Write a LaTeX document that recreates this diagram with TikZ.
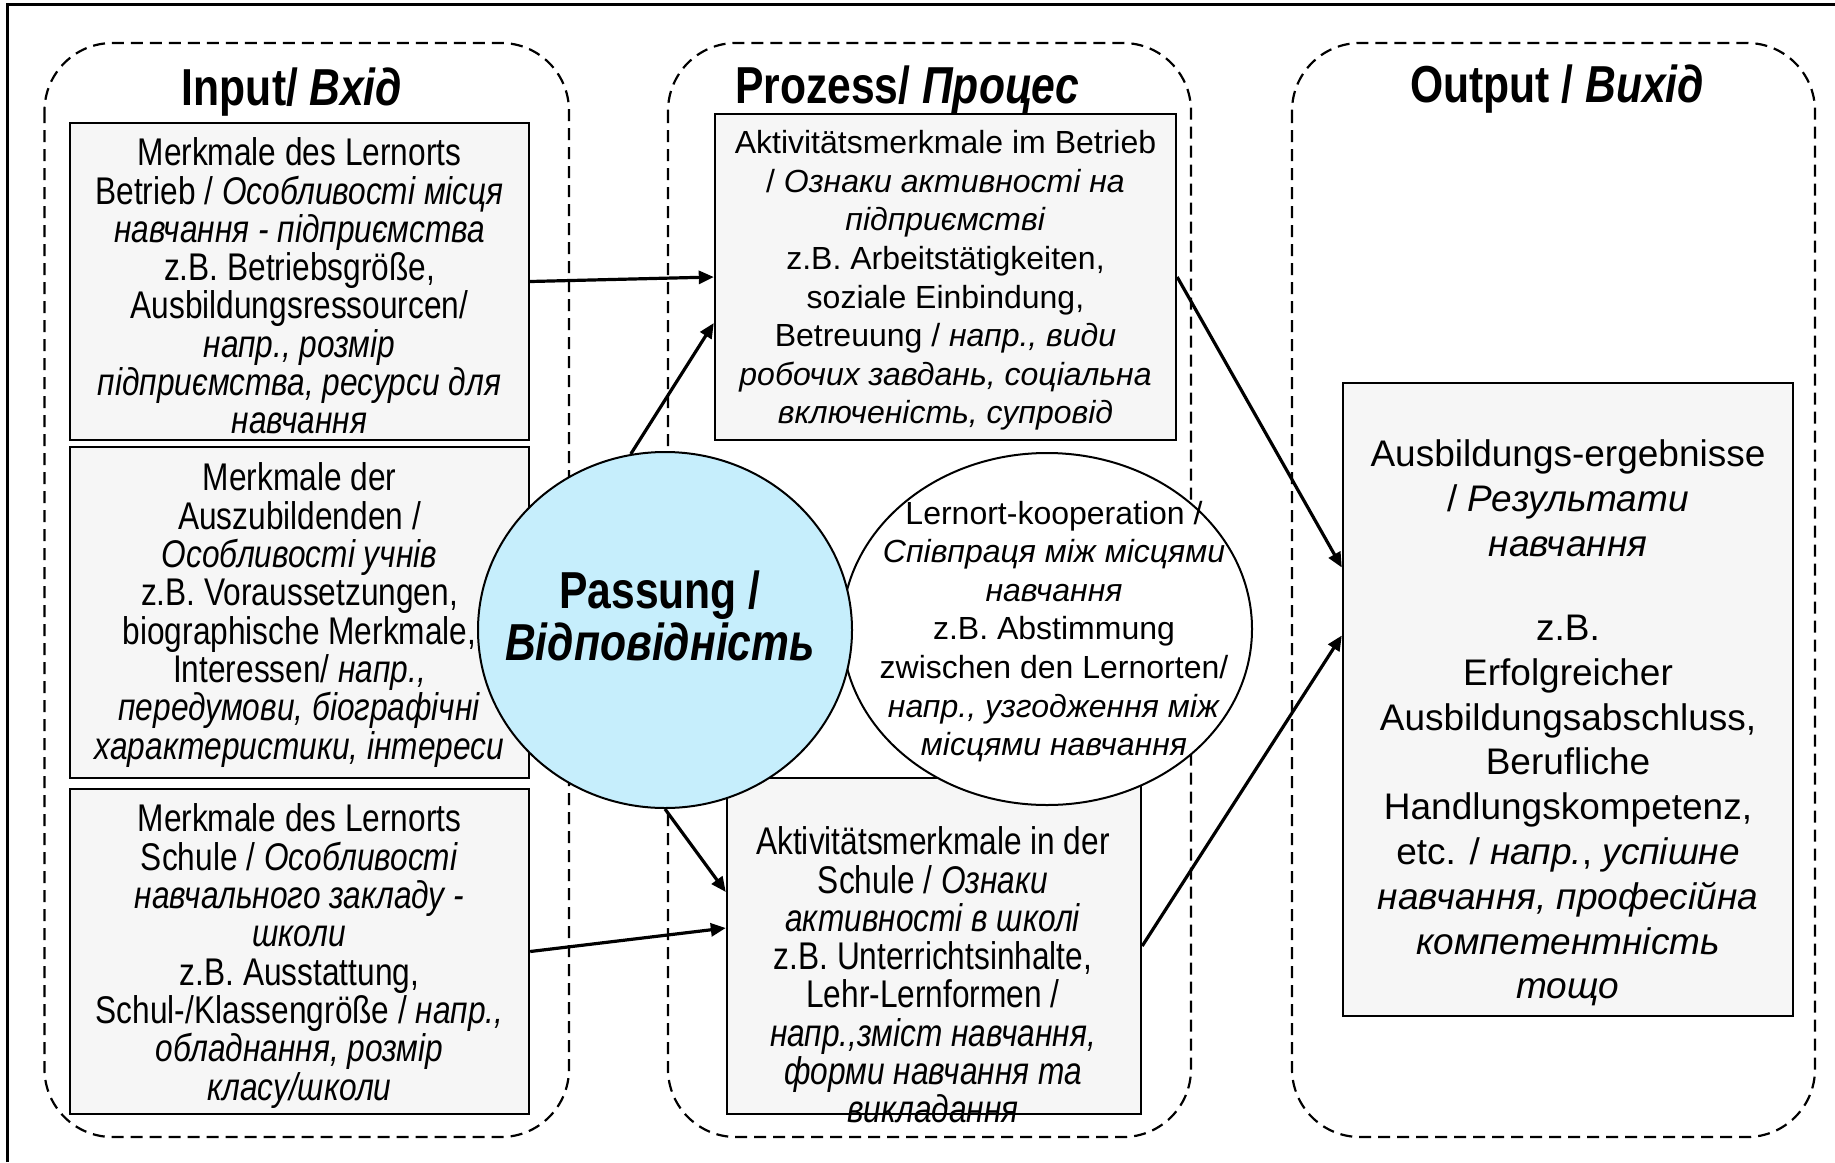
\documentclass[tikz,border=0pt]{standalone}
\usepackage{fontspec}
\setmainfont{Liberation Sans}
\newfontfamily\nrw[FakeStretch=0.82]{Liberation Sans}
\usetikzlibrary{arrows.meta,shapes.geometric,calc}
\definecolor{boxgray}{RGB}{246,246,246}
\definecolor{passblue}{RGB}{198,238,252}
\tikzset{
 colbox/.style={draw, dash pattern=on 6pt off 3.5pt, line width=1.1pt, rounded corners=34pt},
 gbox/.style={draw, fill=boxgray, line width=1.2pt, inner sep=0pt, align=center},
 plain/.style={inner sep=0pt, align=center},
 nfont/.style={font=\nrw\fontsize{19.3}{19.15}\selectfont},
 rfont/.style={font=\fontsize{16}{19.3}\selectfont},
 ofont/.style={font=\fontsize{18.5}{22.4}\selectfont},
 tfont/.style={font=\nrw\bfseries\fontsize{26}{26.3}\selectfont},
 ellbox/.style={ellipse, draw, line width=1pt, inner sep=0pt},
 conn/.style={line width=1.6pt, -{Triangle[length=7.5pt,width=6.5pt]}},
 frame/.style={line width=1.5pt},
}
\begin{document}
\begin{tikzpicture}[x=0.5pt,y=-0.5pt]
\useasboundingbox (0,0) rectangle (1835,1162);
% outer frame (cut)
\draw[frame] (7,1162) -- (7,4) -- (1835,4);
% columns
\draw[colbox] (44.5,43) rectangle (569,1137);
\draw[colbox] (668,43) rectangle (1191,1137);
\draw[colbox] (1292,43) rectangle (1815,1137);
% titles
\node[tfont, anchor=base] (tin) at (292,105) {Input/ \textit{Вхід}};
\node[tfont, anchor=base] (tpro) at (907,103) {Prozess/ \textit{Процес}};
\node[tfont, anchor=base] (tout) at (1557,102) {Output / \textit{Вихід}};
% input boxes
\node[gbox, minimum width=229.5pt, minimum height=158.5pt] (ib1) at (299.5,281.5) {};
\node[plain, nfont] (ib1txt) at (299.5,286)
 {Merkmale des Lernorts\\
  Betrieb / \textit{Особливості місця}\\
  \textit{навчання - підприємства}\\
  z.B. Betriebsgröße,\\
  Ausbildungsressourcen/\\
  \textit{напр., розмір}\\
  \textit{підприємства, ресурси для}\\
  \textit{навчання}};
\node[gbox, minimum width=229.5pt, minimum height=165.5pt] (ib2) at (299.5,612.5) {};
\node[plain, nfont] (ib2txt) at (299.5,615)
 {Merkmale der\\
  Auszubildenden /\\
  \textit{Особливості учнів}\\
  z.B. Voraussetzungen,\\
  biographische Merkmale,\\
  Interessen/ \textit{напр.,}\\
  \textit{передумови, біографічні}\\
  \textit{характеристики, інтереси}};
\node[gbox, minimum width=229.5pt, minimum height=162.5pt] (ib3) at (299.5,951.5) {};
\node[plain, nfont] (ib3txt) at (299.5,956)
 {Merkmale des Lernorts\\
  Schule / \textit{Особливості}\\
  \textit{навчального закладу -}\\
  \textit{школи}\\
  z.B. Ausstattung,\\
  Schul-/Klassengröße / \textit{напр.,}\\
  \textit{обладнання, розмір}\\
  \textit{класу/школи}};
% process boxes
\node[gbox, minimum width=230.5pt, minimum height=163pt] (pb1) at (945.5,277) {};
\node[plain, rfont] (pb1txt) at (945.5,280.5)
 {Aktivitätsmerkmale im Betrieb\\
  / \textit{Ознаки активності на}\\
  \textit{підприємстві}\\
  z.B. Arbeitstätigkeiten,\\
  soziale Einbindung,\\
  Betreuung / \textit{напр., види}\\
  \textit{робочих завдань, соціальна}\\
  \textit{включеність, супровід}};
\node[gbox, minimum width=207pt, minimum height=168pt] (pb2) at (934,946) {};
\node[plain, nfont] (pb2txt) at (933,975)
 {Aktivitätsmerkmale in der\\
  Schule / \textit{Ознаки}\\
  \textit{активності в школі}\\
  z.B. Unterrichtsinhalte,\\
  Lehr-Lernformen /\\
  \textit{напр.,зміст навчання,}\\
  \textit{форми навчання та}\\
  \textit{викладання}};
% output box
\node[gbox, minimum width=225pt, minimum height=316.5pt] (out) at (1568,699.5) {};
\node[plain, ofont] (outtxt) at (1568,723)
 {Ausbildungs-ergebnisse\\
  / \textit{Результати}\\
  \textit{навчання}\\[-2.7pt]
  \mbox{}\\
  z.B.\\
  Erfolgreicher\\
  Ausbildungsabschluss,\\
  Berufliche\\
  Handlungskompetenz,\\
  etc. / \textit{напр.}, \textit{успішне}\\
  \textit{навчання, професійна}\\
  \textit{компетентність}\\
  \textit{тощо}};
% ellipses
\node[ellbox, fill=white, minimum width=205pt, minimum height=176pt] (lko) at (1047,629) {};
\node[plain, rfont] (lkotxt) at (1054,631.5)
 {Lernort-kooperation /\\
  \textit{Співпраця між місцями}\\
  \textit{навчання}\\
  z.B. Abstimmung\\
  zwischen den Lernorten/\\
  \textit{напр., узгодження між}\\
  \textit{місцями навчання}};
\node[ellbox, fill=passblue, minimum width=187pt, minimum height=178pt] (pass) at (665,630) {};
\node[plain, tfont] (passtxt) at (660,616) {Passung /\\ \textit{Відповідність}};
% connectors
\draw[conn] (ib1.east) -- (pb1.west);
\draw[conn] (pass.101) -- ($(pb1.west)+(0,46)$);
\draw[conn] (pass.south) -- ($(pb2.west)+(0,-54)$);
\draw[conn] (ib3.east) -- ($(pb2.west)+(0,-18)$);
\draw[conn] (pb1.east) -- ($(out.west)+(0,-132)$);
\draw[conn] (pb2.east) -- ($(out.west)+(0,-64)$);
\end{tikzpicture}
\end{document}
